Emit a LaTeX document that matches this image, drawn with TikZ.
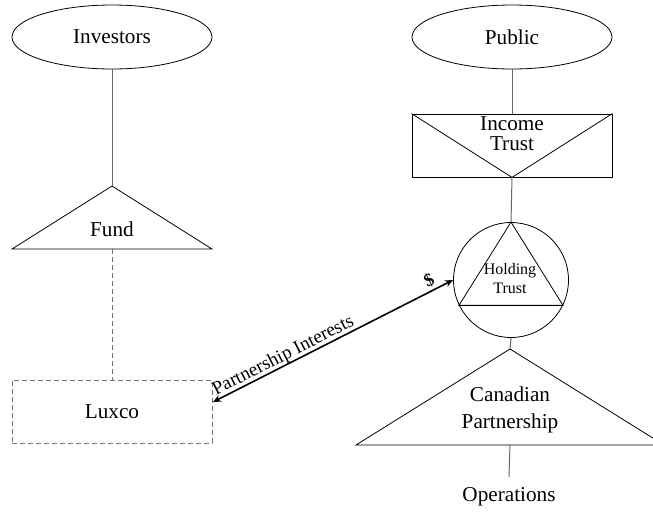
\documentclass[tikz,border=0pt]{standalone}
\usepackage{fontspec}
\setmainfont{Liberation Serif}
\usetikzlibrary{shapes.geometric,arrows.meta,calc}
\begin{document}
\begin{tikzpicture}[x=1pt,y=-1pt,
  shapeline/.style={draw=black,line width=0.8pt},
  conn/.style={draw=black!60,line width=1pt},
  dconn/.style={draw=black!55,line width=1pt,dash pattern=on 5pt off 3pt},
  bigtxt/.style={font=\fontsize{21.2}{21}\selectfont,align=center,inner sep=0pt},
  smalltxt/.style={font=\fontsize{16}{19}\selectfont,align=center,inner sep=0pt},
  oval/.style={shapeline,ellipse,minimum width=200pt,minimum height=64pt,inner sep=0pt,font=\fontsize{21.2}{21}\selectfont},
  dblarrow/.style={line width=1.6pt,{Stealth[length=8pt,width=7pt]}-{Stealth[length=8pt,width=7pt]}}
]
\useasboundingbox (0,0) rectangle (653,512);

% left column
\node[oval] (inv) at (112,37) {Investors};
\coordinate (fundtop) at (112,186);
\coordinate (fundbl) at (12,249);
\coordinate (fundbr) at (212,249);
\coordinate (fundbase) at (112,249);
\draw[shapeline] (fundbl) -- (fundtop) -- (fundbr) -- cycle;
\node[bigtxt] (fund) at (112,229) {Fund};
\node[draw=black!55,line width=1pt,dash pattern=on 5pt off 3pt,minimum width=200pt,minimum height=63pt,inner sep=0pt,font=\fontsize{21.2}{21}\selectfont] (luxco) at (112,411.5) {Luxco};
\draw[conn] (inv.south) -- (fundtop);
\draw[dconn] (fundbase) -- (luxco.north);

% right column
\node[oval] (pub) at (512,37) {Public};
\node[shapeline,minimum width=200pt,minimum height=63pt,inner sep=0pt] (itrust) at (512,145.5) {};
\draw[shapeline] (itrust.north west) -- (itrust.south) -- (itrust.north east);
\node[font=\fontsize{21.2}{20}\selectfont,align=center,inner sep=0pt] (ittext) at (512,134) {Income\\Trust};
\draw[conn] (pub.south) -- (itrust.north);

\node[shapeline,circle,minimum size=115pt,inner sep=0pt] (hold) at (511,280) {};
\draw[shapeline] (hold.north) -- (hold.206) -- (hold.334) -- cycle;
\node[smalltxt] (holdtxt) at (510,279) {Holding\\Trust};
\draw[conn] (itrust.south) -- (hold.north);

\coordinate (cptop) at (510,349);
\coordinate (cpbl) at (356,445);
\coordinate (cpbr) at (664,445);
\coordinate (cpbase) at (510,445);
\draw[shapeline] (cpbl) -- (cptop) -- (cpbr) -- cycle;
\node[font=\fontsize{21.2}{27}\selectfont,align=center,inner sep=0pt] (cptxt) at (510,410) {Canadian\\Partnership};
\draw[conn] (hold.south) -- (cptop);
\node[bigtxt] (ops) at (509,497) {Operations};
\coordinate (opstop) at (509,477);
\draw[conn] (cpbase) -- (opstop);

% arrow
\coordinate (lx) at (213,402);
\draw[dblarrow] (lx) -- (hold.west)
  node[sloped,above=-1.5pt,pos=0.31,inner sep=1pt,font=\fontsize{19}{19}\selectfont] (pi) {Partnership Interests}
  node[sloped,above=2pt,pos=0.92,inner sep=1pt,font=\fontsize{18}{18}\selectfont\bfseries] (dollar) {\$};
\end{tikzpicture}
\end{document}
